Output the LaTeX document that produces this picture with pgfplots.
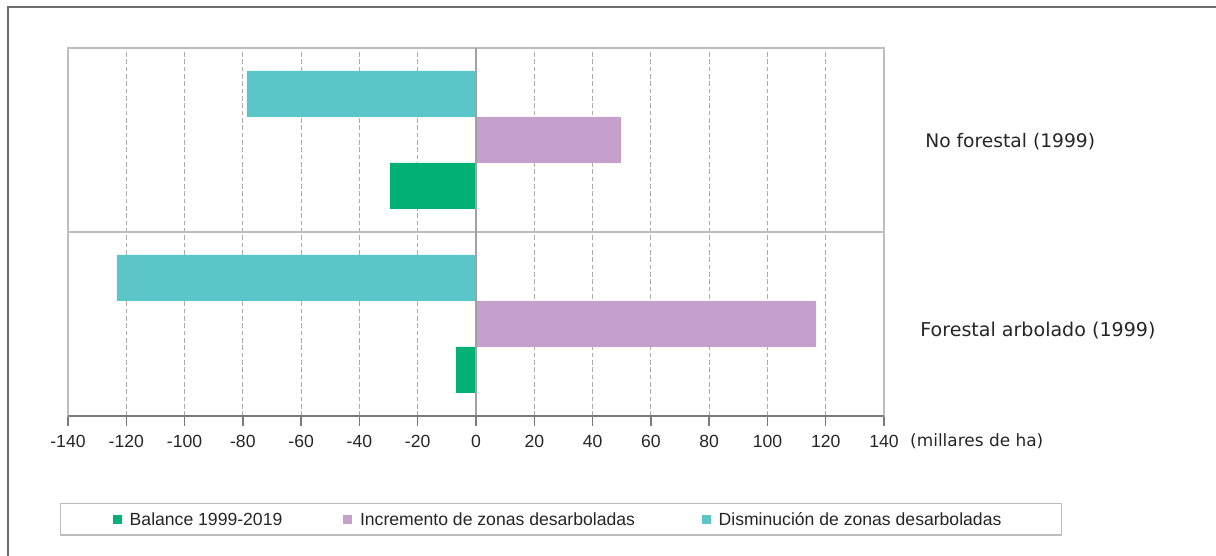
\documentclass[border=0pt]{standalone}
\usepackage{fontspec}
\setmainfont{Liberation Sans}
\newfontfamily\catfont{DejaVu Sans}
\usepackage{pgfplots}
\pgfplotsset{compat=1.18}
\definecolor{cBal}{HTML}{00B074}
\definecolor{cInc}{HTML}{C6A0CC}
\definecolor{cDis}{HTML}{5CC5C8}
\definecolor{boxgray}{HTML}{BDBDBD}
\definecolor{gridgray}{HTML}{ABABAB}
\definecolor{axgray}{HTML}{7A7A7A}
\definecolor{framegray}{HTML}{6E6E6E}

\begin{document}
\begin{tikzpicture}
\useasboundingbox (-51pt,-105pt) rectangle (861pt,312pt);
\draw[framegray, line width=1.1pt] (-45pt,-106pt) -- (-45pt,306.75pt) -- (862pt,306.75pt);
\begin{axis}[
  scale only axis, width=612pt, height=276pt,
  xmin=-140, xmax=140, ymin=0, ymax=2,
  xbar, bar width=0.25, bar shift=0pt,
  xtick={-140,-120,...,140},
  xticklabels={-140,-120,-100,-80,-60,-40,-20,0,20,40,60,80,100,120,140},
  ytick=\empty,
  xtick pos=left,
  tick align=outside,
  major tick length=7.5pt,
  tick style={axgray, line width=1.1pt},
  axis line style={boxgray, line width=1.1pt},
  xmajorgrids,
  grid style={gridgray, dash pattern=on 3.5pt off 2pt, line width=0.75pt},
  ticklabel style={font=\fontsize{13.2pt}{15pt}\selectfont, text=black!85},
  xticklabel style={yshift=-3pt},
  clip=false,
  legend columns=-1,
  legend cell align=left,
  legend image code/.code={\fill (0pt,-3.375pt) rectangle (6.75pt,3.375pt);},
  legend style={
    at={(-0.0098,-0.2364)}, anchor=north west,
    draw=boxgray, line width=1.1pt,
    font=\fontsize{13.2pt}{15pt}\selectfont, text=black!85,
    inner xsep=39pt, inner ysep=6.9pt,
    /tikz/every odd column/.append style={column sep=6pt},
    /tikz/every even column/.append style={column sep=45.5pt},
    nodes={inner sep=0pt, text height=9.5pt, text depth=0pt},
  },
]
\addplot[fill=cBal, draw=none] coordinates {(-29.5,1.25) (-6.9,0.25)};
\addlegendentry{Balance 1999-2019}
\addplot[fill=cInc, draw=none] coordinates {(49.8,1.5) (116.7,0.5)};
\addlegendentry{Incremento de zonas desarboladas\rule{4.5pt}{0pt}}
\addplot[fill=cDis, draw=none] coordinates {(-78.6,1.75) (-123.2,0.75)};
\addlegendentry{Disminución de zonas desarboladas\rule{6pt}{0pt}}

\draw[boxgray, line width=1.1pt] (axis cs:-140,1) -- (axis cs:140,1);
\draw[boxgray!85!black, line width=1.1pt] (axis cs:0,0) -- (axis cs:0,2);
\draw[axgray, line width=1.1pt] (axis cs:-140,0) -- (axis cs:140,0);

\node[anchor=west, inner sep=0pt, text=black!85, font=\catfont\fontsize{14pt}{16pt}\selectfont]
  at (axis cs:154.1,1.489) {No forestal (1999)};
\node[anchor=west, inner sep=0pt, text=black!85, font=\catfont\fontsize{14.3pt}{16pt}\selectfont]
  at (axis cs:152.4,0.462) {Forestal arbolado (1999)};
\node[anchor=west, inner sep=0pt, text=black!85, font=\catfont\fontsize{12.7pt}{15pt}\selectfont]
  at (axis cs:148.9,-0.136) {(millares de ha)};
\end{axis}
\end{tikzpicture}
\end{document}
